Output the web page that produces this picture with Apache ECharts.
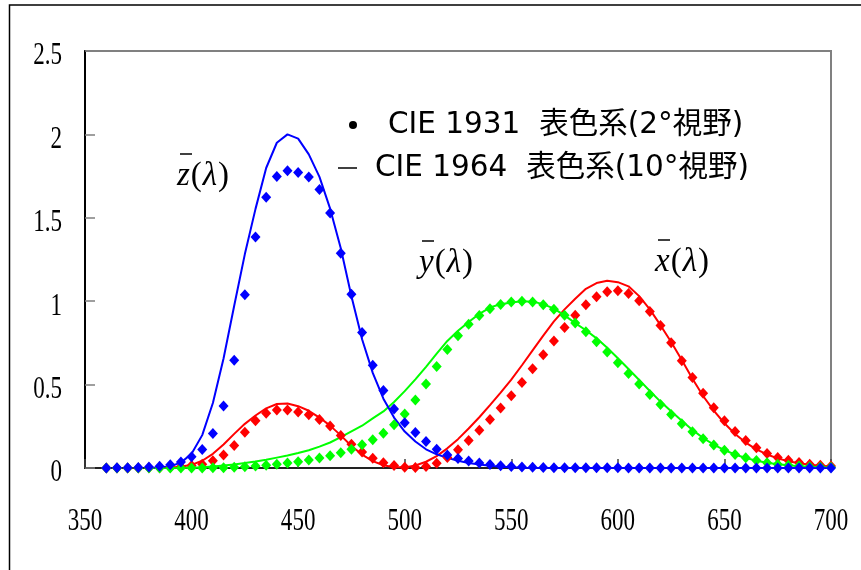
<!DOCTYPE html>
<html>
<head>
<meta charset="utf-8">
<script src="https://cdn.jsdelivr.net/npm/echarts@6/dist/echarts.min.js"></script>
<style>
  html, body { margin: 0; padding: 0; background: #ffffff; }
  #chart { width: 861px; height: 570px; }
</style>
</head>
<body>
<div id="chart"></div>
<script>
// CIE 1931 2° standard observer colour-matching functions (5 nm steps)
const wavelengths1931 = [360, 365, 370, 375, 380, 385, 390, 395, 400, 405, 410, 415, 420, 425, 430, 435, 440, 445, 450, 455,
  460, 465, 470, 475, 480, 485, 490, 495, 500, 505, 510, 515, 520, 525, 530, 535, 540, 545, 550, 555,
  560, 565, 570, 575, 580, 585, 590, 595, 600, 605, 610, 615, 620, 625, 630, 635, 640, 645, 650, 655,
  660, 665, 670, 675, 680, 685, 690, 695, 700];
const xBar1931 = [0.0001, 0.0002, 0.0004, 0.0007, 0.0014, 0.0022, 0.0042, 0.0077, 0.0143, 0.0232, 0.0435, 0.0776, 0.1344, 0.2148, 0.2839, 0.3285, 0.3483, 0.3481, 0.3362, 0.3187,
  0.2908, 0.2511, 0.1954, 0.1421, 0.0956, 0.0580, 0.0320, 0.0147, 0.0049, 0.0024, 0.0093, 0.0291, 0.0633, 0.1096, 0.1655, 0.2257, 0.2904, 0.3597, 0.4334, 0.5121,
  0.5945, 0.6784, 0.7621, 0.8425, 0.9163, 0.9786, 1.0263, 1.0567, 1.0622, 1.0456, 1.0026, 0.9384, 0.8544, 0.7514, 0.6424, 0.5419, 0.4479, 0.3608, 0.2835, 0.2187,
  0.1649, 0.1212, 0.0874, 0.0636, 0.0468, 0.0329, 0.0227, 0.0158, 0.0114];
const yBar1931 = [0.0000, 0.0000, 0.0000, 0.0000, 0.0000, 0.0001, 0.0001, 0.0002, 0.0004, 0.0006, 0.0012, 0.0022, 0.0040, 0.0073, 0.0116, 0.0168, 0.0230, 0.0298, 0.0380, 0.0480,
  0.0600, 0.0739, 0.0910, 0.1126, 0.1390, 0.1693, 0.2080, 0.2586, 0.3230, 0.4073, 0.5030, 0.6082, 0.7100, 0.7932, 0.8620, 0.9149, 0.9540, 0.9803, 0.9950, 1.0000,
  0.9950, 0.9786, 0.9520, 0.9154, 0.8700, 0.8163, 0.7570, 0.6949, 0.6310, 0.5668, 0.5030, 0.4412, 0.3810, 0.3210, 0.2650, 0.2170, 0.1750, 0.1382, 0.1070, 0.0816,
  0.0610, 0.0446, 0.0320, 0.0232, 0.0170, 0.0119, 0.0082, 0.0057, 0.0041];
const zBar1931 = [0.0006, 0.0011, 0.0019, 0.0035, 0.0065, 0.0106, 0.0201, 0.0362, 0.0679, 0.1102, 0.2074, 0.3713, 0.6456, 1.0391, 1.3856, 1.6230, 1.7471, 1.7826, 1.7721, 1.7441,
  1.6692, 1.5281, 1.2876, 1.0419, 0.8130, 0.6162, 0.4652, 0.3533, 0.2720, 0.2123, 0.1582, 0.1117, 0.0783, 0.0573, 0.0422, 0.0298, 0.0203, 0.0134, 0.0088, 0.0058,
  0.0039, 0.0028, 0.0021, 0.0018, 0.0017, 0.0014, 0.0011, 0.0010, 0.0008, 0.0006, 0.0003, 0.0002, 0.0002, 0.0001, 0.0001, 0.0000, 0.0000, 0.0000, 0.0000, 0.0000,
  0.0000, 0.0000, 0.0000, 0.0000, 0.0000, 0.0000, 0.0000, 0.0000, 0.0000];

// CIE 1964 10° supplementary observer (5 nm steps)
const wavelengths1964 = [380, 385, 390, 395, 400, 405, 410, 415, 420, 425, 430, 435, 440, 445, 450, 455,
  460, 465, 470, 475, 480, 485, 490, 495, 500, 505, 510, 515, 520, 525, 530, 535, 540, 545, 550, 555,
  560, 565, 570, 575, 580, 585, 590, 595, 600, 605, 610, 615, 620, 625, 630, 635, 640, 645, 650, 655,
  660, 665, 670, 675, 680, 685, 690, 695, 700];
const xBar1964 = [0.0002, 0.0007, 0.0024, 0.0072, 0.0191, 0.0434, 0.0847, 0.1406, 0.2045, 0.2647, 0.3147, 0.3577, 0.3837, 0.3867, 0.3707, 0.3430,
  0.3023, 0.2541, 0.1956, 0.1323, 0.0805, 0.0411, 0.0162, 0.0051, 0.0038, 0.0154, 0.0375, 0.0714, 0.1177, 0.1730, 0.2365, 0.3042,
  0.3768, 0.4516, 0.5298, 0.6161, 0.7052, 0.7938, 0.8787, 0.9512, 1.0142, 1.0743, 1.1085, 1.1220, 1.1140, 1.0891, 1.0305, 0.9507,
  0.8563, 0.7549, 0.6475, 0.5351, 0.4316, 0.3437, 0.2683, 0.2043, 0.1526, 0.1122, 0.0813, 0.0579, 0.0409, 0.0286, 0.0199, 0.0138, 0.0096];
const yBar1964 = [0.0000, 0.0001, 0.0003, 0.0008, 0.0020, 0.0045, 0.0088, 0.0145, 0.0214, 0.0295, 0.0387, 0.0496, 0.0621, 0.0747, 0.0895, 0.1063,
  0.1282, 0.1528, 0.1852, 0.2199, 0.2536, 0.2977, 0.3391, 0.3954, 0.4608, 0.5314, 0.6067, 0.6857, 0.7618, 0.8233, 0.8752, 0.9238,
  0.9620, 0.9822, 0.9918, 0.9991, 0.9973, 0.9824, 0.9556, 0.9152, 0.8689, 0.8256, 0.7774, 0.7204, 0.6583, 0.5939, 0.5280, 0.4618,
  0.3981, 0.3396, 0.2835, 0.2283, 0.1798, 0.1402, 0.1076, 0.0812, 0.0603, 0.0441, 0.0318, 0.0226, 0.0159, 0.0111, 0.0077, 0.0054, 0.0037];
const zBar1964 = [0.0007, 0.0029, 0.0105, 0.0323, 0.0860, 0.1971, 0.3894, 0.6568, 0.9725, 1.2825, 1.5535, 1.7985, 1.9500, 2.0000, 1.9750, 1.8800,
  1.7454, 1.5549, 1.3176, 1.0302, 0.7721, 0.5701, 0.4153, 0.3024, 0.2185, 0.1592, 0.1120, 0.0822, 0.0607, 0.0431, 0.0305, 0.0206,
  0.0137, 0.0079, 0.0040, 0.0011, 0.0000, 0.0000, 0.0000, 0.0000, 0.0000, 0.0000, 0.0000, 0.0000, 0.0000, 0.0000, 0.0000, 0.0000,
  0.0000, 0.0000, 0.0000, 0.0000, 0.0000, 0.0000, 0.0000, 0.0000, 0.0000, 0.0000, 0.0000, 0.0000, 0.0000, 0.0000, 0.0000, 0.0000, 0.0000];

const xTickLabels = ['350', '400', '450', '500', '550', '600', '650', '700'];
const yTickLabels = ['0', '0.5', '1', '1.5', '2', '2.5'];

const legend1931 = 'CIE 1931  表色系(2°視野)';
const legend1964 = 'CIE 1964  表色系(10°視野)';

// Curve annotations: function letter, label anchor (px)
const curveNames = ['z', 'y', 'x'];
const curveLabelPos = [[177, 176], [419, 263], [655, 262]];

const RED = '#ff0000', GREEN = '#00ff00', BLUE = '#0000ff';

const pair = (xs, ys) => xs.map((x, i) => [x, ys[i]]);

const chart = echarts.init(document.getElementById('chart'), null, { renderer: 'canvas' });

function lineSeries(values, color) {
  return {
    type: 'line', name: legend1964, data: pair(wavelengths1964, values),
    showSymbol: false, symbol: 'none', smooth: false, z: 2,
    lineStyle: { color: color, width: 2 }, itemStyle: { color: color },
    emphasis: { disabled: true }
  };
}
function dotSeries(values, color) {
  return {
    type: 'scatter', name: legend1931, data: pair(wavelengths1931, values),
    symbol: 'diamond', symbolSize: [10, 11], z: 3,
    itemStyle: { color: color, opacity: 1 },
    emphasis: { disabled: true }
  };
}

const legendText = {
  fontFamily: '"DejaVu Sans", "Noto Sans CJK JP", sans-serif',
  fontSize: 29.5, color: '#000', lineHeight: 34
};

chart.setOption({
  animation: false,
  backgroundColor: '#ffffff',
  grid: {
    left: 85, right: 30, top: 51, bottom: 102,
    show: true, borderColor: '#808080', borderWidth: 2, backgroundColor: 'transparent'
  },
  xAxis: {
    type: 'value', min: 350, max: 700, interval: 50,
    axisLine: { show: true, onZero: false, lineStyle: { color: '#222', width: 2 } },
    axisTick: { show: true, inside: true, length: 9, lineStyle: { color: '#444', width: 1.5 } },
    axisLabel: { show: false },
    splitLine: { show: false }
  },
  yAxis: {
    type: 'value', min: 0, max: 2.5, interval: 0.5,
    axisLine: { show: true, lineStyle: { color: '#000', width: 2 } },
    axisTick: { show: true, inside: true, length: 10, lineStyle: { color: '#808080', width: 1.5 } },
    axisLabel: { show: false },
    splitLine: { show: false }
  },
  legend: [
    {
      data: [{ name: legend1931, icon: 'circle' }],
      left: 344, top: 103, itemWidth: 8, itemHeight: 8,
      itemStyle: { color: '#000', borderWidth: 0 },
      textStyle: Object.assign({ padding: [0, 0, 0, 26] }, legendText),
      selectedMode: false
    },
    {
      data: [{ name: legend1964, icon: 'rect' }],
      left: 333, top: 146, itemWidth: 19, itemHeight: 1.5,
      itemStyle: { color: '#000', borderWidth: 0 },
      textStyle: Object.assign({ padding: [0, 0, 0, 13] }, legendText),
      selectedMode: false
    }
  ],
  series: [
    lineSeries(xBar1964, RED),
    lineSeries(yBar1964, GREEN),
    lineSeries(zBar1964, BLUE),
    dotSeries(xBar1931, RED),
    dotSeries(yBar1931, GREEN),
    dotSeries(zBar1931, BLUE)
  ]
});

// Tick labels in a condensed serif face, placed at the axis tick positions
const graphics = [];
const tickFont = '32px "Liberation Serif", "Times New Roman", serif';
xTickLabels.forEach(t => {
  const p = chart.convertToPixel({ gridIndex: 0 }, [Number(t), 0]);
  graphics.push({
    type: 'text', x: p[0], y: 522, scaleX: 0.72, silent: true,
    style: { text: t, font: tickFont, fill: '#000', align: 'center', verticalAlign: 'middle', textAlign: 'center', textVerticalAlign: 'middle' }
  });
});
yTickLabels.forEach(t => {
  const p = chart.convertToPixel({ gridIndex: 0 }, [350, Number(t)]);
  graphics.push({
    type: 'text', x: 62, y: p[1] + 5, scaleX: 0.72, silent: true,
    style: { text: t, font: tickFont, fill: '#000', align: 'right', verticalAlign: 'middle', textAlign: 'right', textVerticalAlign: 'middle' }
  });
});

// Curve names: italic letter with an overbar, upright parentheses around λ
const serif = '"Liberation Serif", "Times New Roman", serif';
const labelRich = {
  i: { fontFamily: serif, fontStyle: 'italic', fontSize: 33, fill: '#000', color: '#000' },
  p: { fontFamily: serif, fontSize: 33, fill: '#000', color: '#000', padding: [0, 1, 0, 1] }
};
curveNames.forEach((n, i) => {
  const [x, y] = curveLabelPos[i];
  graphics.push({
    type: 'text', x: x, y: y, silent: true,
    style: {
      text: '{i|' + n + '}{p|(}{i|λ}{p|)}', rich: labelRich,
      fill: '#000', align: 'left', verticalAlign: 'middle', textAlign: 'left', textVerticalAlign: 'middle'
    }
  });
  graphics.push({
    type: 'line', silent: true,
    shape: { x1: x + 3, y1: y - 22, x2: x + 15, y2: y - 22 },
    style: { stroke: '#000', lineWidth: 1.5 }
  });
});

// Outer chart frame
graphics.push({
  type: 'rect', silent: true, z: -1,
  shape: { x: 9.5, y: 5, width: 900, height: 600 },
  style: { fill: 'none', stroke: '#000', lineWidth: 1.5 }
});

chart.setOption({ graphic: graphics });
</script>
</body>
</html>
